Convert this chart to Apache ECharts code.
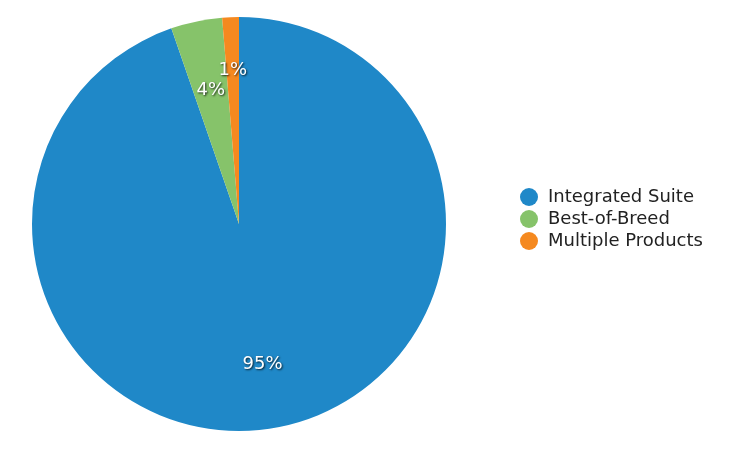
<!DOCTYPE html>
<html>
<head>
<meta charset="utf-8">
<script src="https://cdn.jsdelivr.net/npm/echarts@6/dist/echarts.min.js"></script>
<style>
html,body{margin:0;padding:0;background:#fff;}
#chart{width:730px;height:450px;}
</style>
</head>
<body>
<div id="chart"></div>
<script>
const categories = ['Integrated Suite', 'Best-of-Breed', 'Multiple Products'];
const values = [94.7, 4.0, 1.3];
const colors = ['#1f88c8', '#86c36a', '#f5891f'];

const chart = echarts.init(document.getElementById('chart'), null, {renderer: 'canvas'});
const font = 'DejaVu Sans, Verdana, sans-serif';
const CX = 239, CY = 224, R = 207;

const mainData = categories.map((c, i) => ({name: c, value: values[i], itemStyle: {color: colors[i]}}));

// transparent overlay pies that only place one label each, at a given mid radius
function labelSeries(showIndex, mid) {
  return {
    type: 'pie',
    center: [CX, CY],
    radius: [mid - 60, mid + 60],
    startAngle: 90,
    clockwise: true,
    data: categories.map((c, i) => ({name: c, value: values[i], label: {show: i === showIndex}})),
    avoidLabelOverlap: false,
    labelLayout: {hideOverlap: false},
    minShowLabelAngle: 0,
    itemStyle: {color: 'rgba(0,0,0,0)'},
    legendHoverLink: false,
    silent: true,
    emphasis: {disabled: true},
    labelLine: {show: false},
    label: {
      position: 'inside',
      rotate: 0,
      fontFamily: font,
      fontSize: 18,
      color: '#fff',
      textShadowColor: 'rgba(0,0,0,0.8)',
      textShadowBlur: 2,
      textShadowOffsetX: 1,
      textShadowOffsetY: 1,
      formatter: p => Math.round(p.value) + '%'
    }
  };
}

chart.setOption({
  animation: false,
  legend: {
    orient: 'vertical',
    left: 515,
    top: 183,
    icon: 'circle',
    itemWidth: 18,
    itemHeight: 18,
    itemGap: 4,
    data: categories,
    textStyle: {fontFamily: font, fontSize: 18, color: '#222', padding: [0, 0, 0, 5]}
  },
  series: [
    {
      type: 'pie',
      center: [CX, CY],
      radius: [0, R],
      startAngle: 90,
      clockwise: true,
      data: mainData,
      label: {show: false},
      labelLine: {show: false},
      itemStyle: {borderWidth: 0},
      emphasis: {disabled: true},
      silent: true
    },
    labelSeries(0, 139),
    labelSeries(1, 134),
    labelSeries(2, 151)
  ]
});
</script>
</body>
</html>
